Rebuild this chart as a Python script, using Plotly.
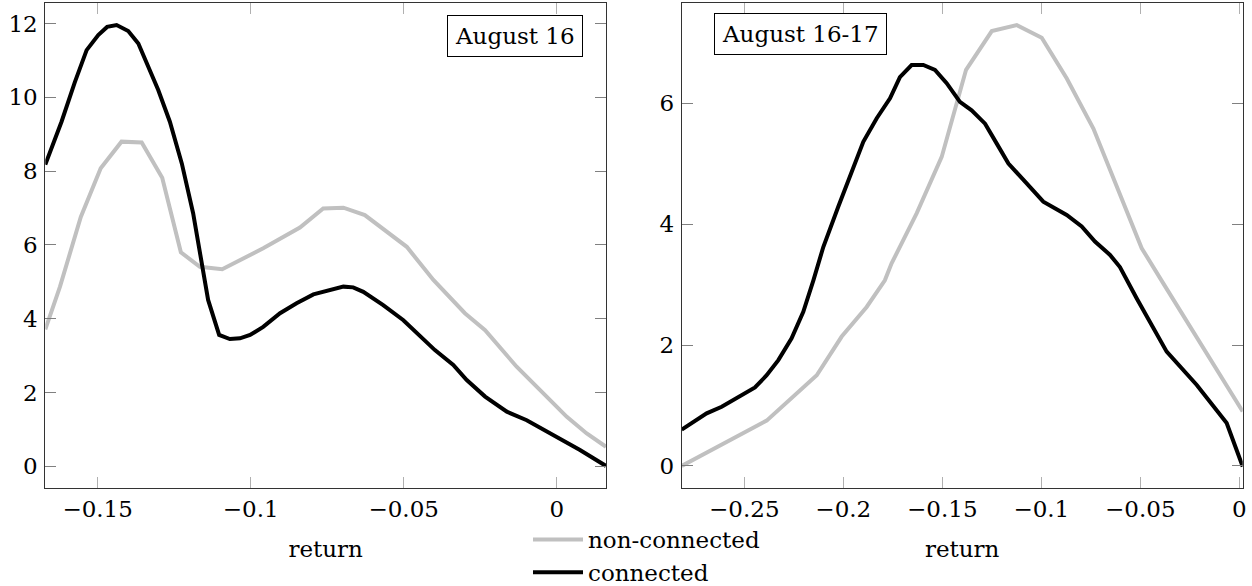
import plotly.graph_objects as go

# ---- Data ----
# Left panel: August 16
aug16_nc_x = [-0.1671, -0.1623, -0.1555, -0.149, -0.1422, -0.1356, -0.1289, -0.1228, -0.1166,
              -0.1093, -0.0959, -0.0839, -0.0763, -0.0697, -0.0627, -0.0561, -0.049, -0.0403,
              -0.030, -0.0234, -0.0131, -0.0033, 0.0033, 0.0098, 0.0161]
aug16_nc_y = [3.71, 4.87, 6.76, 8.08, 8.80, 8.78, 7.82, 5.80, 5.41,
              5.34, 5.91, 6.47, 6.99, 7.01, 6.81, 6.40, 5.95, 5.05,
              4.15, 3.69, 2.70, 1.89, 1.34, 0.89, 0.53]

aug16_c_x = [-0.1671, -0.1618, -0.1575, -0.1536, -0.1498, -0.1469, -0.1438, -0.140, -0.1367,
             -0.1335, -0.1302, -0.1264, -0.1225, -0.1188, -0.1139, -0.1103, -0.1068, -0.1035,
             -0.1002, -0.0959, -0.0904, -0.085, -0.0795, -0.0697, -0.0665, -0.0632, -0.0567,
             -0.0501, -0.0452, -0.0398, -0.0338, -0.0294, -0.0234, -0.0163, -0.0098, -0.0011,
             0.0076, 0.0161]
aug16_c_y = [8.18, 9.34, 10.40, 11.28, 11.69, 11.91, 11.96, 11.80, 11.46,
             10.87, 10.20, 9.34, 8.21, 6.86, 4.51, 3.56, 3.45, 3.47,
             3.56, 3.78, 4.15, 4.42, 4.66, 4.87, 4.85, 4.73, 4.37,
             3.96, 3.56, 3.15, 2.75, 2.34, 1.89, 1.48, 1.25, 0.85,
             0.44, 0.01]

# Right panel: August 16-17
aug1617_nc_x = [-0.2816, -0.2387, -0.2134, -0.2008, -0.1882, -0.179, -0.1756, -0.1629, -0.1503,
                -0.138, -0.125, -0.1124, -0.0998, -0.0872, -0.0737, -0.0619, -0.0493, -0.0384,
                -0.0180, 0.0017]
aug1617_nc_y = [0.0, 0.75, 1.50, 2.14, 2.63, 3.07, 3.35, 4.18, 5.11,
                6.55, 7.19, 7.29, 7.08, 6.41, 5.58, 4.62, 3.60, 3.02,
                1.95, 0.90]

aug1617_c_x = [-0.2816, -0.2758, -0.269, -0.2614, -0.2522, -0.2446, -0.2387, -0.2328, -0.2261,
               -0.2202, -0.2151, -0.2101, -0.2025, -0.1958, -0.1899, -0.1831, -0.1764, -0.1714,
               -0.1655, -0.1596, -0.1537, -0.1478, -0.1411, -0.1352, -0.1284, -0.1225, -0.1166,
               -0.1082, -0.099, -0.0872, -0.0796, -0.0729, -0.0653, -0.0603, -0.0518, -0.0367,
               -0.0215, -0.0064, 0.0017]
aug1617_c_y = [0.60, 0.73, 0.87, 0.98, 1.15, 1.30, 1.50, 1.75, 2.11,
               2.55, 3.07, 3.62, 4.29, 4.86, 5.36, 5.75, 6.08, 6.43,
               6.63, 6.63, 6.55, 6.33, 6.02, 5.88, 5.66, 5.33, 5.00,
               4.70, 4.37, 4.15, 3.96, 3.71, 3.49, 3.29, 2.77, 1.89,
               1.34, 0.71, -0.01]

series_names = ["non-connected", "connected"]
panel_labels = ["August 16", "August 16-17"]
axis_title = "return"

left_xticks = [-0.15, -0.1, -0.05, 0]
left_yticks = [0, 2, 4, 6, 8, 10, 12]
right_xticks = [-0.25, -0.2, -0.15, -0.1, -0.05, 0]
right_yticks = [0, 2, 4, 6]

# ---- Styling ----
W, H = 1252, 586
FONT = "DejaVu Serif"
FS = 23
GRAY = "#c0c0c0"
BLACK = "#000000"
LW = 4

fig = go.Figure()
fig.add_trace(go.Scatter(x=aug16_nc_x, y=aug16_nc_y, mode="lines", name=series_names[0],
                         line=dict(color=GRAY, width=LW), xaxis="x", yaxis="y",
                         legendgroup="nc"))
fig.add_trace(go.Scatter(x=aug16_c_x, y=aug16_c_y, mode="lines", name=series_names[1],
                         line=dict(color=BLACK, width=LW), xaxis="x", yaxis="y",
                         legendgroup="c"))
fig.add_trace(go.Scatter(x=aug1617_nc_x, y=aug1617_nc_y, mode="lines", name=series_names[0],
                         line=dict(color=GRAY, width=LW), xaxis="x2", yaxis="y2",
                         legendgroup="nc", showlegend=False))
fig.add_trace(go.Scatter(x=aug1617_c_x, y=aug1617_c_y, mode="lines", name=series_names[1],
                         line=dict(color=BLACK, width=LW), xaxis="x2", yaxis="y2",
                         legendgroup="c", showlegend=False))

def px_x(p):
    return p / W

def px_y(p):
    return 1 - p / H

common_axis = dict(
    showgrid=False, zeroline=False, showline=True, linecolor="#333333", linewidth=1,
    mirror="ticks", ticks="inside", ticklen=11, tickwidth=1, automargin=False,
    tickfont=dict(family=FONT, size=FS, color="#000000"),
)

y_dom = [px_y(488.3), px_y(3.3)]

fig.update_layout(
    width=W, height=H,
    margin=dict(l=0, r=0, t=0, b=0, autoexpand=False),
    paper_bgcolor="white", plot_bgcolor="white",
    font=dict(family=FONT, size=FS, color="#000000"),
    xaxis=dict(domain=[px_x(45.3), px_x(606)], range=[-0.1671, 0.0161],
               tickvals=left_xticks, tickcolor="#b0b0b0", ticklabelstandoff=0,
               title=dict(text=axis_title, standoff=19,
                          font=dict(family=FONT, size=FS)),
               anchor="y", **common_axis),
    yaxis=dict(domain=y_dom, range=[-0.596, 12.55], tickvals=left_yticks,
               tickcolor="#808080", ticklabelstandoff=2, anchor="x", **common_axis),
    xaxis2=dict(domain=[px_x(681.7), px_x(1242.7)], range=[-0.2816, 0.0017],
                tickvals=right_xticks, tickcolor="#b0b0b0", ticklabelstandoff=0,
                title=dict(text=axis_title, standoff=19,
                           font=dict(family=FONT, size=FS)),
                anchor="y2", **common_axis),
    yaxis2=dict(domain=y_dom, range=[-0.369, 7.65], tickvals=right_yticks,
                tickcolor="#808080", ticklabelstandoff=2, anchor="x2", **common_axis),
    legend=dict(x=px_x(528), y=px_y(518), xanchor="left", yanchor="top",
                bgcolor="rgba(0,0,0,0)", borderwidth=0, tracegroupgap=0,
                font=dict(family=FONT, size=FS), itemwidth=50),
    showlegend=True,
)

fig.add_annotation(text=panel_labels[0], xref="paper", yref="paper",
                   x=px_x(583), y=px_y(15), xanchor="right", yanchor="top",
                   showarrow=False, bordercolor="#000000", borderwidth=1, borderpad=7,
                   bgcolor="white", font=dict(family=FONT, size=FS))
fig.add_annotation(text=panel_labels[1], xref="paper", yref="paper",
                   x=px_x(714), y=px_y(12.7), xanchor="left", yanchor="top",
                   showarrow=False, bordercolor="#000000", borderwidth=1, borderpad=7,
                   bgcolor="white", font=dict(family=FONT, size=FS))

fig.write_html("out.html")
